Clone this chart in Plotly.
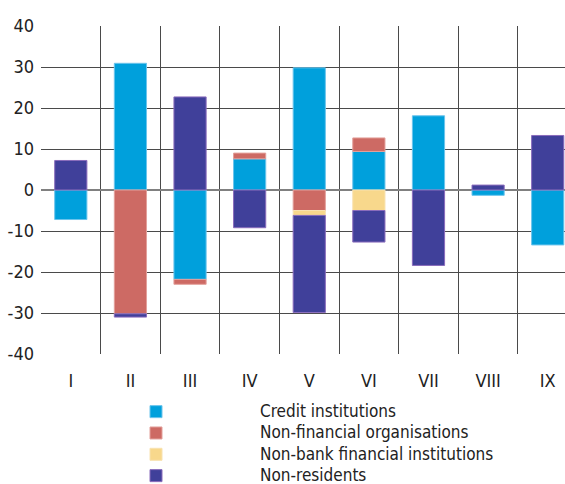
import plotly.graph_objects as go

# Monthly flows by sector, stacked relative bars (None = no flow that month)
categories = ["I", "II", "III", "IV", "V", "VI", "VII", "VIII", "IX"]

credit_institutions = [-7.2, 30.9, -21.8, 7.6, 29.8, 9.4, 18.1, -1.3, -13.4]
non_financial_orgs = [None, -30.2, -1.2, 1.4, -5.0, 3.3, None, None, None]
non_bank_financial = [None, None, None, None, -1.2, -5.0, None, None, None]
non_residents = [7.2, -0.8, 22.7, -9.2, -23.7, -7.7, -18.4, 1.2, 13.3]

y_ticks = [-40, -30, -20, -10, 0, 10, 20, 30, 40]
y_tick_labels = [str(v) for v in y_ticks]

series = [
    ("Credit institutions", credit_institutions, "#00a0dc", "#6cc4ec"),
    ("Non-financial organisations", non_financial_orgs, "#cd6a64", "#e3a09b"),
    ("Non-bank financial institutions", non_bank_financial, "#f8d88c", "#f8e2b0"),
    ("Non-residents", non_residents, "#40409a", "#8a6cbc"),
]

FONT = "Liberation Sans Narrow, DejaVu Sans Condensed, Arial Narrow, sans-serif"
positions = list(range(len(categories)))

fig = go.Figure()
for name, values, color, edge in series:
    fig.add_trace(go.Bar(
        x=positions,
        y=values,
        name="<span style='font-size:17px'>" + name + "</span>",
        marker=dict(color=color, line=dict(color=edge, width=1)),
    ))

grid_color = "#4a4a4a"

fig.update_layout(
    width=565,
    height=484,
    barmode="relative",
    bargap=0.46,
    paper_bgcolor="white",
    plot_bgcolor="white",
    margin=dict(l=41, r=0, t=26, b=130, autoexpand=False),
    font=dict(family=FONT, size=18, color="#222222"),
    showlegend=True,
    legend=dict(
        x=0.021, xanchor="left",
        y=-0.128, yanchor="top",
        itemwidth=198,
        font=dict(family=FONT, size=14.1, color="#222222"),
        bgcolor="rgba(0,0,0,0)",
        tracegroupgap=0,
        traceorder="normal",
    ),
    xaxis=dict(
        range=[-0.5, 8.29],
        tickmode="array",
        tickvals=positions,
        ticktext=categories,
        showgrid=False,
        zeroline=False,
        showline=False,
        ticks="",
        ticklabelstandoff=14,
        tickfont=dict(family=FONT, size=18, color="#222222"),
        minor=dict(
            tickmode="array",
            tickvals=[p - 0.5 for p in positions],
            showgrid=True,
            gridcolor=grid_color,
            gridwidth=1.3,
        ),
    ),
    yaxis=dict(
        range=[-40, 40],
        tickmode="array",
        tickvals=y_ticks,
        ticktext=y_tick_labels,
        showgrid=True,
        gridcolor=grid_color,
        gridwidth=1.3,
        zeroline=True,
        zerolinecolor="#808080",
        zerolinewidth=1.8,
        showline=False,
        ticks="",
        ticklabelstandoff=6,
        tickfont=dict(family=FONT, size=18, color="#222222"),
    ),
)

fig.write_html("out.html")
